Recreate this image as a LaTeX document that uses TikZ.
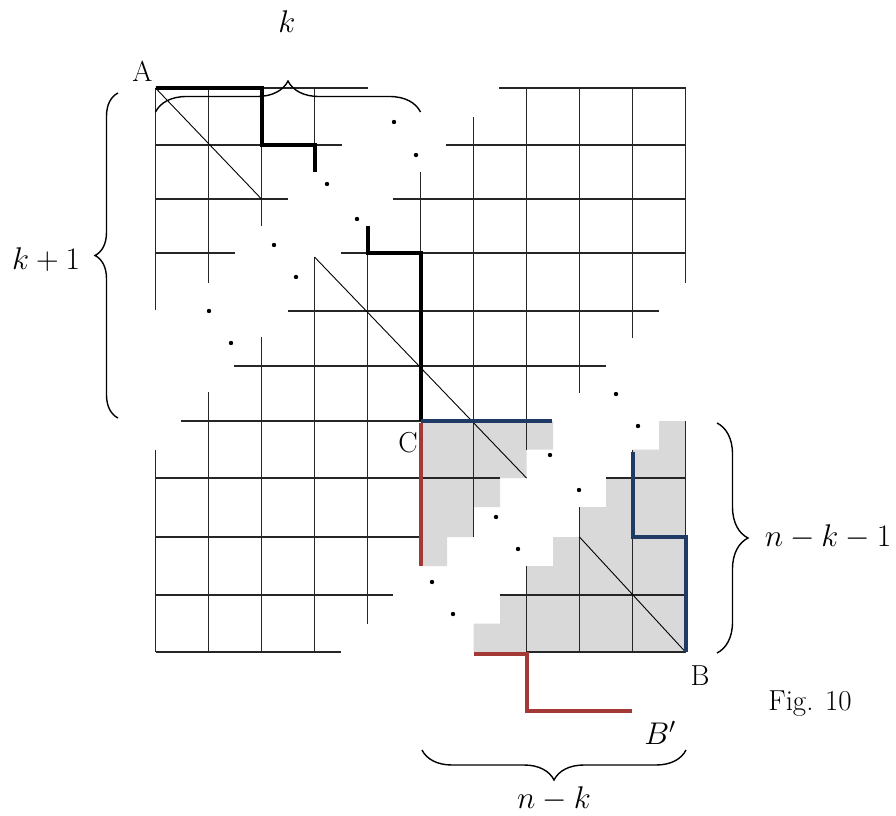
\documentclass[tikz,border=0pt]{standalone}
\usepackage{fix-cm}
\usepackage{fontspec}
\usetikzlibrary{decorations.pathreplacing}
\definecolor{pathblue}{RGB}{31,58,100}
\definecolor{pathred}{RGB}{163,56,52}
\definecolor{shadegrey}{RGB}{217,217,217}
\tikzset{
  gridline/.style={line width=1.1bp, black!85},
  diagline/.style={line width=0.9bp, black},
  route/.style={line width=4bp, line join=miter},
  bracedeco/.style={line width=1.4bp, decorate, decoration={brace, amplitude=#1}},
  lbl/.style={inner sep=0pt, font=\fontsize{29}{32}\selectfont},
  mlbl/.style={inner sep=0pt, font=\fontsize{31.5}{35}\selectfont},
  dotmark/.style={fill=black}
}
\begin{document}
\begin{tikzpicture}[x=1bp, y=-1bp]
\useasboundingbox (0,0) rectangle (896,816);
\fill[white] (0,0) rectangle (896,816);

% grey regions
\fill[shadegrey] (420.5,421) -- (553,421) -- (553,449.5) -- (526.5,449.5) -- (526.5,478)
  -- (500,478) -- (500,507) -- (473.5,507) -- (473.5,537) -- (447,537) -- (447,566)
  -- (420.5,566) -- cycle;
\fill[shadegrey] (659,421) -- (685.5,421) -- (685.5,652) -- (473.5,652) -- (473.5,623.5)
  -- (500,623.5) -- (500,595) -- (526.5,595) -- (526.5,566) -- (553,566) -- (553,537)
  -- (579.5,537) -- (579.5,507) -- (606,507) -- (606,478) -- (632.5,478) -- (632.5,449.5)
  -- (659,449.5) -- cycle;

% horizontal grid lines
\draw[gridline] (155.5,88) -- (367.5,88)  (499,88) -- (685.5,88);
\draw[gridline] (155.5,145) -- (342,145)  (446,145) -- (685.5,145);
\draw[gridline] (155.5,199) -- (288,199)  (393,199) -- (685.5,199);
\draw[gridline] (155.5,253) -- (235,253)  (341,253) -- (685.5,253);
\draw[gridline] (288,311) -- (659,311);
\draw[gridline] (234,366) -- (606,366);
\draw[gridline] (181,421) -- (420.5,421);
\draw[gridline] (155.5,478) -- (500,478)  (606,478) -- (685.5,478);
\draw[gridline] (155.5,537) -- (420.5,537);
\draw[gridline] (155.5,595) -- (393,595)  (500,595) -- (685.5,595);
\draw[gridline] (155.5,652) -- (341,652)  (526.5,652) -- (685.5,652);

% vertical grid lines
\draw[gridline] (155.5,88) -- (155.5,310)  (155.5,450) -- (155.5,652);
\draw[gridline] (208.5,88) -- (208.5,283)  (208.5,392) -- (208.5,652);
\draw[gridline] (261.5,145) -- (261.5,226)  (261.5,337) -- (261.5,652);
\draw[gridline] (314.5,88) -- (314.5,145)  (314.5,257) -- (314.5,652);
\draw[gridline] (367.5,253) -- (367.5,624);
\draw[gridline] (420.5,172) -- (420.5,253);
\draw[gridline] (473.5,117) -- (473.5,537);
\draw[gridline] (526.5,88) -- (526.5,449.5)  (526.5,566) -- (526.5,652);
\draw[gridline] (579.5,88) -- (579.5,393)  (579.5,507) -- (579.5,652);
\draw[gridline] (632.5,88) -- (632.5,338)  (632.5,449.5) -- (632.5,652);
\draw[gridline] (685.5,88) -- (685.5,283)  (685.5,421) -- (685.5,652);

% diagonals
\draw[diagline] (155.5,88) -- (261.5,199);
\draw[diagline] (314.5,257) -- (526.5,478);
\draw[diagline] (579.5,537) -- (685.5,652);

% dots
\foreach \p in {(394,122),(416,155),(327,184),(357,219),(274,245),(296,277),(209,311),(231,343),
                (616,394),(638,426),(550,455),(579,490),(496,517),(518,549),(432,582),(453,614)}
  \fill[dotmark] \p circle (2.2bp);

% lattice paths
\draw[route, black] (155.5,88) -- (261.5,88) -- (261.5,145) -- (314.5,145) -- (314.5,172);
\draw[route, black] (367.5,226) -- (367.5,253) -- (420.5,253) -- (420.5,421);
\draw[route, pathblue] (420.5,421) -- (552,421);
\draw[route, pathblue] (632.5,452) -- (632.5,537) -- (685.5,537) -- (685.5,652);
\draw[route, pathred] (420.5,423) -- (420.5,566);
\draw[route, pathred] (473.5,654) -- (526.5,654) -- (526.5,711) -- (632,711);

% braces
\coordinate (tbL) at (155.5,112); \coordinate (tbR) at (420.5,112);
\coordinate (lbB) at (118,418);   \coordinate (lbT) at (118,93);
\coordinate (rbT) at (717,423);   \coordinate (rbB) at (717,653);
\coordinate (bbR) at (686,750);   \coordinate (bbL) at (422,750);
\draw[bracedeco=31bp] (tbL) -- (tbR);
\draw[bracedeco=23bp] (lbB) -- (lbT);
\draw[bracedeco=31bp] (rbT) -- (rbB);
\draw[bracedeco=30bp] (bbR) -- (bbL);

% labels
\node[lbl] (A) at (142.5,71) {A};
\node[lbl] (C) at (408,443) {C};
\node[lbl] (B) at (700,676) {B};
\node[lbl, anchor=base] (fig) at (810,710) {Fig. 10};
\node[mlbl] (Bp) at (660,733) {$B'$};
\node[mlbl] (k) at (287,22) {$k$};
\node[mlbl] (kp1) at (46,260) {$k+1$};
\node[mlbl] (nk1) at (828,537) {$n-k-1$};
\node[mlbl] (nk) at (554,799) {$n-k$};
\end{tikzpicture}
\end{document}
